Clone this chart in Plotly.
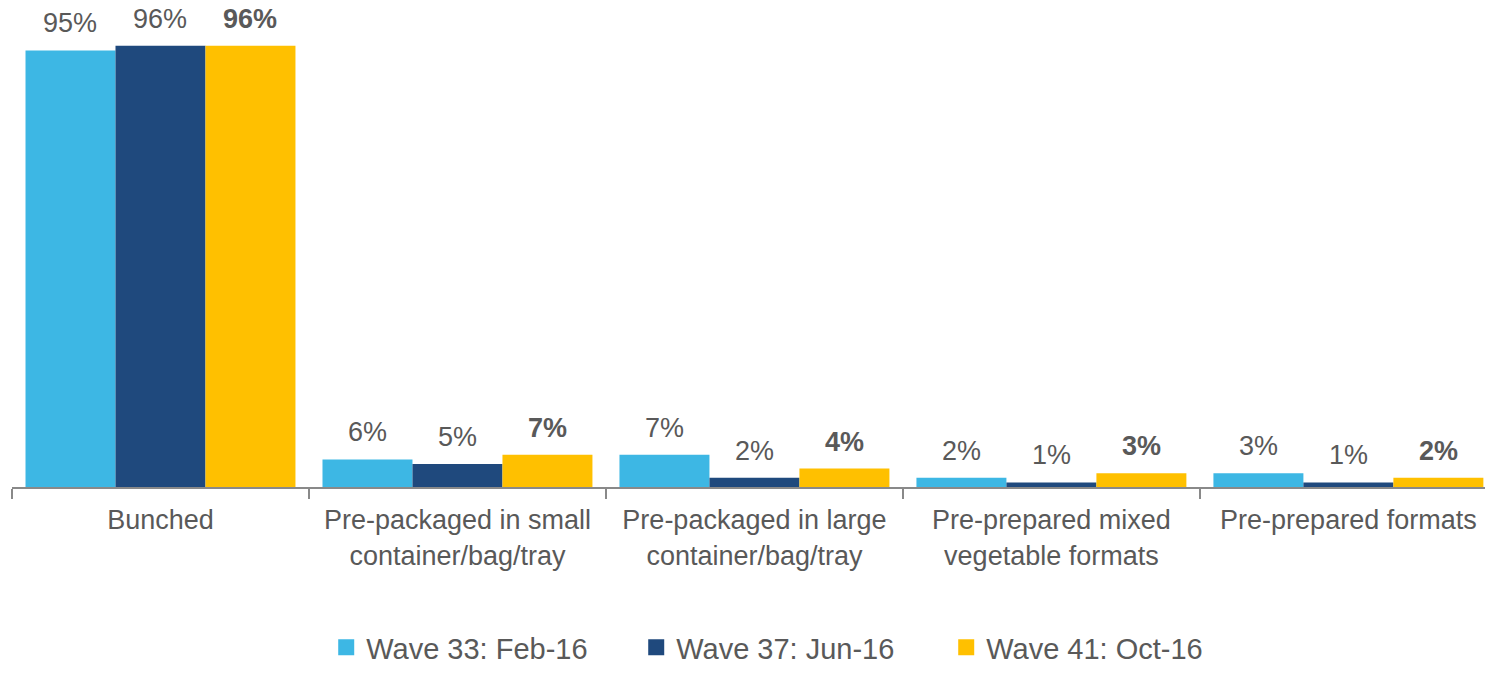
import plotly.graph_objects as go

# Packaging formats bought, by survey wave
categories = [
    "Bunched",
    "Pre-packaged in small<br>container/bag/tray",
    "Pre-packaged in large<br>container/bag/tray",
    "Pre-prepared mixed<br>vegetable formats",
    "Pre-prepared formats",
]
wave_names = ["Wave 33: Feb-16", "Wave 37: Jun-16", "Wave 41: Oct-16"]
wave_33 = [95, 6, 7, 2, 3]
wave_37 = [96, 5, 2, 1, 1]
wave_41 = [96, 7, 4, 3, 2]

series = [wave_33, wave_37, wave_41]
colors = ["#3DB7E4", "#1F497D", "#FFC000"]
bold = [False, False, True]

FONT = "Liberation Sans, Arial, sans-serif"
GREY = "#595959"

fig = go.Figure()
for name, vals, col in zip(wave_names, series, colors):
    fig.add_trace(go.Bar(
        x=categories, y=vals, name=name, marker_color=col,
        marker_line_width=0, showlegend=False,
    ))
    # square legend key
    fig.add_trace(go.Scatter(
        x=[None], y=[None], mode="markers", name=name,
        marker=dict(symbol="square", size=16, color=col),
    ))

# value labels above each bar
bar_px = 90
annotations = []
for i, (vals, b) in enumerate(zip(series, bold)):
    for cat, v in zip(categories, vals):
        txt = f"{v}%"
        if b:
            txt = f"<b>{txt}</b>"
        annotations.append(dict(
            x=cat, y=v, xref="x", yref="y", text=txt, showarrow=False,
            xshift=(i - 1) * bar_px, yshift=10, yanchor="bottom",
            font=dict(family=FONT, size=27, color=GREY),
        ))

fig.update_layout(
    width=1485, height=673,
    margin=dict(l=12, r=0, t=10, b=186, autoexpand=False),
    paper_bgcolor="white", plot_bgcolor="white",
    barmode="group", bargap=0.091, bargroupgap=0,
    font=dict(family=FONT, color=GREY, size=27),
    annotations=annotations,
    legend=dict(
        orientation="h", x=0.529, xanchor="center",
        yref="container", y=0.0, yanchor="bottom",
        font=dict(family=FONT, size=29, color=GREY),
        itemsizing="trace", entrywidth=265, entrywidthmode="pixels",
        traceorder="normal",
    ),
    xaxis=dict(
        type="category", range=[-0.5, 4.46],
        showline=True, linecolor="#898989", linewidth=2,
        ticks="outside", tickson="boundaries", ticklen=10,
        tickcolor="#898989", tickwidth=2,
        tickfont=dict(family=FONT, size=27, color=GREY),
        ticklabelstandoff=8,
        showgrid=False, zeroline=False, automargin=False,
    ),
    yaxis=dict(
        range=[0, 103.8], visible=False, showgrid=False, zeroline=False,
    ),
)

fig.write_html("out.html")
